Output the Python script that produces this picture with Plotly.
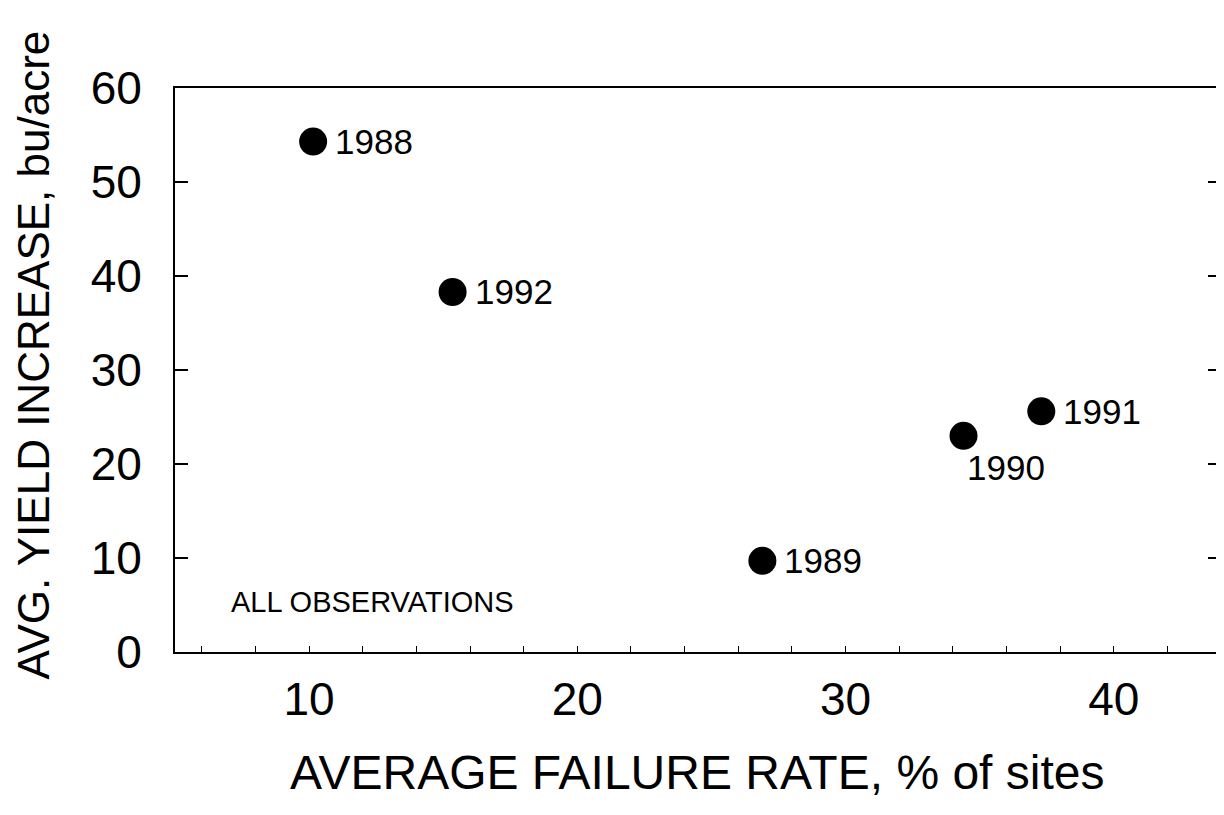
import plotly.graph_objects as go

years = ["1988", "1992", "1989", "1990", "1991"]
failure_rate = [10.15, 15.35, 26.9, 34.4, 37.3]
yield_increase = [54.3, 38.3, 9.7, 23.0, 25.6]

x_tick_vals = list(range(6, 44, 2))
x_tick_text = [str(v) if v % 10 == 0 else "" for v in x_tick_vals]
y_tick_vals = [0, 10, 20, 30, 40, 50, 60]

# label offsets (px) relative to each marker
label_dx = [20, 20, 20, 1, 20]
label_dy = [0, 0, 0, -32, 0]

FONT = "Liberation Sans, Arial, sans-serif"

fig = go.Figure()
fig.add_trace(go.Scatter(
    x=failure_rate, y=yield_increase, mode="markers",
    marker=dict(size=28, color="black"),
    cliponaxis=False, showlegend=False,
))

for xv, yv, t, dx, dy in zip(failure_rate, yield_increase, years, label_dx, label_dy):
    fig.add_annotation(
        x=xv, y=yv, xref="x", yref="y", text=t, showarrow=False,
        xanchor="left", yanchor="middle", xshift=dx, yshift=dy,
        font=dict(family=FONT, size=35, color="black"),
    )

fig.add_annotation(
    x=7.0, y=5.3, xref="x", yref="y", text="ALL OBSERVATIONS",
    showarrow=False, xanchor="left", yanchor="middle",
    font=dict(family=FONT, size=29, color="black"),
)

fig.add_annotation(
    x=0.499, y=-0.213, xref="paper", yref="paper",
    text="AVERAGE FAILURE RATE, % of sites", showarrow=False,
    xanchor="center", yanchor="middle",
    font=dict(family=FONT, size=48, color="black"),
)
fig.add_annotation(
    x=-0.135, y=0.527, xref="paper", yref="paper",
    text="AVG. YIELD INCREASE, bu/acre", showarrow=False, textangle=-90,
    xanchor="center", yanchor="middle",
    font=dict(family=FONT, size=44, color="black"),
)

fig.update_layout(
    width=1224, height=815,
    margin=dict(l=167, r=11, t=80, b=171),
    plot_bgcolor="white", paper_bgcolor="white",
    font=dict(family=FONT, color="black"),
)
fig.update_xaxes(
    range=[5, 44], tickvals=x_tick_vals, ticktext=x_tick_text,
    ticks="inside", ticklen=6, tickwidth=1, tickcolor="black",
    showline=True, linecolor="black", linewidth=2, mirror=True,
    showgrid=False, zeroline=False, automargin=False,
    tickfont=dict(size=46, family=FONT), ticklabelstandoff=6,
)
fig.update_yaxes(
    range=[0, 60], tickvals=y_tick_vals,
    ticks="inside", ticklen=13, tickwidth=2, tickcolor="black",
    showline=True, linecolor="black", linewidth=2, mirror="ticks",
    showgrid=False, zeroline=False, automargin=False,
    tickfont=dict(size=46, family=FONT), ticklabelstandoff=22,
)

fig.write_html("out.html")
